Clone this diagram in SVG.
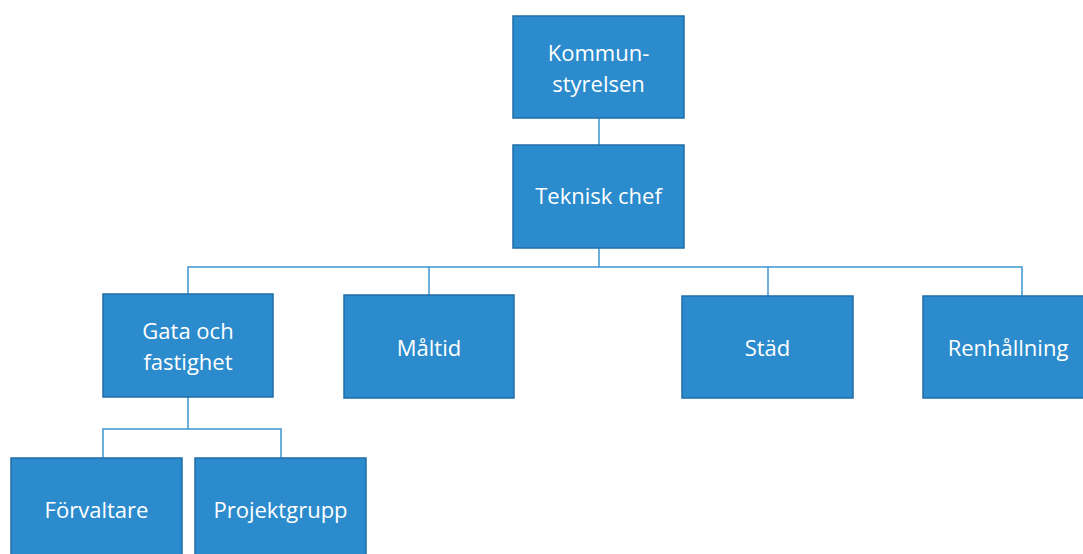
<svg xmlns="http://www.w3.org/2000/svg" width="1083" height="554" viewBox="0 0 1083 554">
<style>
.box{fill:#2b8bcc;stroke:#1f6ea8;stroke-width:1.5}
.t{font-family:"Open Sans","Noto Sans","DejaVu Sans",sans-serif;font-size:22px;fill:#ffffff;text-anchor:middle}
.c{fill:none;stroke:#3e95d1;stroke-width:1.5}
</style>
<rect width="1083" height="554" fill="#ffffff"/>
<g id="connectors">
<path class="c" d="M599 118V145"/>
<path class="c" d="M599 248V267"/>
<path class="c" d="M188 294V267H1022V296"/>
<path class="c" d="M429 267V295"/>
<path class="c" d="M768 267V296"/>
<path class="c" d="M188 397V429"/>
<path class="c" d="M103 458V429H281V458"/>
</g>
<g id="kommunstyrelsen"><rect class="box" x="513" y="16" width="171" height="102"/><text class="t" x="598.5" y="61">Kommun-</text><text class="t" x="598.5" y="92">styrelsen</text></g>
<g id="teknisk-chef"><rect class="box" x="513" y="145" width="171" height="103"/><text class="t" x="598.5" y="204">Teknisk chef</text></g>
<g id="gata"><rect class="box" x="103" y="294" width="170" height="103"/><text class="t" x="188" y="339">Gata och</text><text class="t" x="188" y="370">fastighet</text></g>
<g id="maltid"><rect class="box" x="344" y="295" width="170" height="103"/><text class="t" x="429" y="356">Måltid</text></g>
<g id="stad"><rect class="box" x="682" y="296" width="171" height="102"/><text class="t" x="767.5" y="356">Städ</text></g>
<g id="renhallning"><rect class="box" x="923" y="296" width="171" height="102"/><text class="t" x="1008" y="356">Renhållning</text></g>
<g id="forvaltare"><rect class="box" x="11" y="458" width="171" height="110"/><text class="t" x="96.5" y="518">Förvaltare</text></g>
<g id="projektgrupp"><rect class="box" x="195" y="458" width="171" height="110"/><text class="t" x="280.5" y="518">Projektgrupp</text></g>
</svg>
